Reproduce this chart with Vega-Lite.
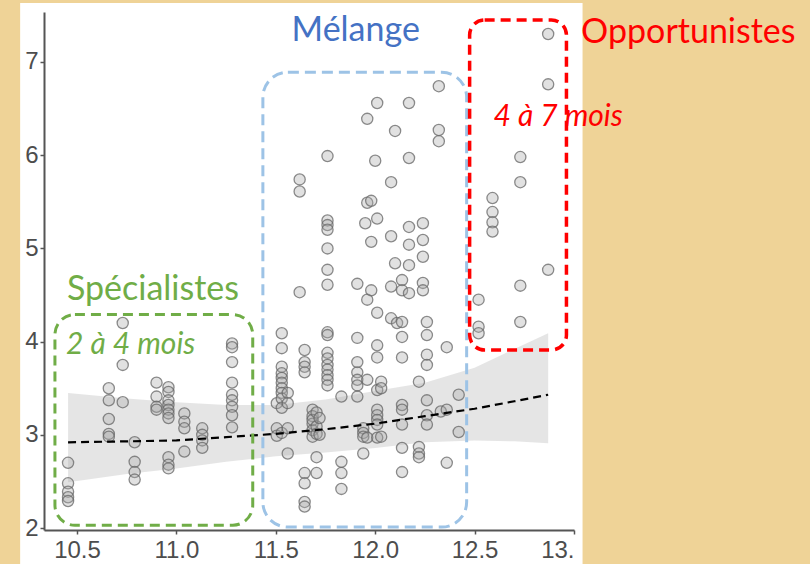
{
"$schema": "https://vega.github.io/schema/vega-lite/v6.json",
"width": 530, "height": 518,
"autosize": {"type": "none"},
"padding": {"left": 44, "top": 12, "right": 236, "bottom": 34},
"background": "#EFD397",
"config": {
  "view": {"stroke": null},
  "axis": {"grid": false, "domainColor": "#555555", "domainWidth": 2, "tickColor": "#555555", "tickWidth": 1.5, "tickSize": 4, "labelColor": "#4d4d4d", "labelFont": "Liberation Sans", "labelFontSize": 24},
  "axisX": {"labelPadding": 4},
  "axisY": {"labelPadding": 2}
},
"datasets": {
  "points": [
    {"x":10.455,"y":2.70},{"x":10.455,"y":2.48},{"x":10.455,"y":2.39},{"x":10.455,"y":2.33},{"x":10.455,"y":2.29},
    {"x":10.66,"y":3.50},{"x":10.66,"y":3.37},{"x":10.66,"y":3.17},{"x":10.66,"y":3.01},{"x":10.66,"y":2.98},
    {"x":10.73,"y":4.20},{"x":10.73,"y":3.75},{"x":10.73,"y":3.35},
    {"x":10.79,"y":2.92},{"x":10.79,"y":2.71},{"x":10.79,"y":2.60},{"x":10.79,"y":2.52},
    {"x":10.90,"y":3.56},{"x":10.90,"y":3.41},{"x":10.90,"y":3.30},{"x":10.90,"y":3.27},
    {"x":10.96,"y":3.51},{"x":10.96,"y":3.46},{"x":10.96,"y":3.37},{"x":10.96,"y":3.32},{"x":10.96,"y":3.27},{"x":10.96,"y":3.23},{"x":10.96,"y":3.18},{"x":10.96,"y":2.76},{"x":10.96,"y":2.68},{"x":10.96,"y":2.64},
    {"x":11.04,"y":3.23},{"x":11.04,"y":3.14},{"x":11.04,"y":3.07},{"x":11.04,"y":2.82},
    {"x":11.13,"y":3.07},{"x":11.13,"y":3.00},{"x":11.13,"y":2.94},{"x":11.13,"y":2.86},
    {"x":11.28,"y":3.98},{"x":11.28,"y":3.94},{"x":11.28,"y":3.78},{"x":11.28,"y":3.56},{"x":11.28,"y":3.43},{"x":11.28,"y":3.37},{"x":11.28,"y":3.30},{"x":11.28,"y":3.21},{"x":11.28,"y":3.08},
    {"x":11.505,"y":3.34},{"x":11.505,"y":3.07},{"x":11.505,"y":2.99},
    {"x":11.53,"y":4.09},{"x":11.53,"y":3.93},{"x":11.53,"y":3.73},{"x":11.53,"y":3.66},{"x":11.53,"y":3.61},{"x":11.53,"y":3.56},{"x":11.53,"y":3.50},{"x":11.53,"y":3.45},{"x":11.53,"y":3.39},{"x":11.53,"y":3.29},{"x":11.53,"y":3.02},
    {"x":11.56,"y":3.45},{"x":11.56,"y":3.34},{"x":11.56,"y":3.07},{"x":11.56,"y":2.80},
    {"x":11.62,"y":5.74},{"x":11.62,"y":5.61},{"x":11.62,"y":4.53},
    {"x":11.645,"y":3.91},{"x":11.645,"y":3.78},{"x":11.645,"y":3.73},{"x":11.645,"y":3.67},{"x":11.645,"y":2.59},{"x":11.645,"y":2.48},{"x":11.645,"y":2.28},{"x":11.645,"y":2.23},
    {"x":11.685,"y":3.27},{"x":11.685,"y":3.20},{"x":11.685,"y":3.12},{"x":11.685,"y":3.05},{"x":11.685,"y":2.98},{"x":11.685,"y":3.16},
    {"x":11.705,"y":3.24},{"x":11.705,"y":3.09},{"x":11.705,"y":3.01},{"x":11.705,"y":2.76},{"x":11.705,"y":2.59},
    {"x":11.72,"y":3.18},{"x":11.72,"y":3.00},
    {"x":11.76,"y":5.99},{"x":11.76,"y":5.30},{"x":11.76,"y":5.25},{"x":11.76,"y":5.20},{"x":11.76,"y":5.00},{"x":11.76,"y":4.77},{"x":11.76,"y":4.61},{"x":11.76,"y":4.10},{"x":11.76,"y":4.07},{"x":11.76,"y":3.88},{"x":11.76,"y":3.82},{"x":11.76,"y":3.75},{"x":11.76,"y":3.70},{"x":11.76,"y":3.64},{"x":11.76,"y":3.59},{"x":11.76,"y":3.53},
    {"x":11.83,"y":3.41},{"x":11.83,"y":2.71},{"x":11.83,"y":2.59},{"x":11.83,"y":2.42},
    {"x":11.91,"y":4.62},{"x":11.91,"y":4.04},{"x":11.91,"y":3.78},{"x":11.91,"y":3.67},{"x":11.91,"y":3.59},{"x":11.91,"y":3.53},{"x":11.91,"y":3.41},
    {"x":11.94,"y":3.07},{"x":11.94,"y":3.02},{"x":11.94,"y":2.98},{"x":11.94,"y":2.80},
    {"x":11.95,"y":5.27},
    {"x":11.96,"y":6.39},{"x":11.96,"y":5.49},{"x":11.96,"y":4.45},{"x":11.96,"y":3.59},{"x":11.96,"y":2.97},
    {"x":11.98,"y":5.51},{"x":11.98,"y":5.07},{"x":11.98,"y":4.55},
    {"x":12.00,"y":5.94},
    {"x":12.01,"y":6.56},{"x":12.01,"y":5.32},{"x":12.01,"y":4.31},{"x":12.01,"y":3.96},{"x":12.01,"y":3.83},{"x":12.01,"y":3.48},{"x":12.01,"y":3.27},{"x":12.01,"y":3.21},{"x":12.01,"y":3.16},{"x":12.01,"y":3.11},{"x":12.01,"y":2.97},
    {"x":12.03,"y":3.57},{"x":12.03,"y":3.50},{"x":12.03,"y":2.98},
    {"x":12.08,"y":5.71},{"x":12.08,"y":5.13},{"x":12.08,"y":4.59},{"x":12.08,"y":4.25},
    {"x":12.10,"y":6.26},{"x":12.10,"y":4.84},
    {"x":12.11,"y":4.20},
    {"x":12.135,"y":4.66},{"x":12.135,"y":4.55},{"x":12.135,"y":4.21},{"x":12.135,"y":4.05},{"x":12.135,"y":3.83},{"x":12.135,"y":3.32},{"x":12.135,"y":3.27},{"x":12.135,"y":3.11},{"x":12.135,"y":2.86},{"x":12.135,"y":2.60},
    {"x":12.17,"y":6.56},{"x":12.17,"y":5.97},{"x":12.17,"y":5.23},{"x":12.17,"y":5.04},{"x":12.17,"y":4.82},{"x":12.17,"y":4.52},
    {"x":12.22,"y":3.57},{"x":12.22,"y":2.87},{"x":12.22,"y":2.80},{"x":12.22,"y":2.76},
    {"x":12.24,"y":5.27},{"x":12.24,"y":5.09},{"x":12.24,"y":4.91},{"x":12.24,"y":4.63},{"x":12.24,"y":4.55},
    {"x":12.26,"y":4.21},{"x":12.26,"y":4.07},{"x":12.26,"y":3.86},{"x":12.26,"y":3.75},{"x":12.26,"y":3.37},{"x":12.26,"y":3.21},{"x":12.26,"y":3.11},
    {"x":12.32,"y":6.74},{"x":12.32,"y":6.27},{"x":12.32,"y":6.15},
    {"x":12.33,"y":3.25},
    {"x":12.36,"y":3.94},{"x":12.36,"y":3.27},{"x":12.36,"y":2.70},
    {"x":12.42,"y":3.43},{"x":12.42,"y":3.03},
    {"x":12.52,"y":4.45},{"x":12.52,"y":4.16},{"x":12.52,"y":4.09},
    {"x":12.59,"y":5.54},{"x":12.59,"y":5.39},{"x":12.59,"y":5.28},{"x":12.59,"y":5.18},
    {"x":12.73,"y":5.98},{"x":12.73,"y":5.71},{"x":12.73,"y":4.60},{"x":12.73,"y":4.21},
    {"x":12.87,"y":7.30},{"x":12.87,"y":6.76},{"x":12.87,"y":4.77}
  ],
  "fit": [
    {"x":10.455,"fit":2.92,"lo":2.49,"hi":3.45},
    {"x":10.75,"fit":2.93,"lo":2.58,"hi":3.39},
    {"x":11.0,"fit":2.94,"lo":2.64,"hi":3.35},
    {"x":11.25,"fit":2.975,"lo":2.71,"hi":3.32},
    {"x":11.5,"fit":3.01,"lo":2.77,"hi":3.32},
    {"x":11.75,"fit":3.06,"lo":2.81,"hi":3.38},
    {"x":12.0,"fit":3.12,"lo":2.86,"hi":3.47},
    {"x":12.25,"fit":3.20,"lo":2.92,"hi":3.56},
    {"x":12.5,"fit":3.28,"lo":2.94,"hi":3.72},
    {"x":12.7,"fit":3.36,"lo":2.93,"hi":3.92},
    {"x":12.87,"fit":3.43,"lo":2.91,"hi":4.09}
  ]
},
"layer": [
  {
    "data": {"values": [{}]},
    "mark": {"type": "rect", "fill": "white"},
    "encoding": {
      "x": {"datum": 10.214, "type": "quantitative", "scale": {"domain": [10.334, 13.0], "nice": false, "zero": false}, "title": null,
            "axis": {"zindex": 1, "title": null, "values": [10.5, 11, 11.5, 12, 12.5, 13], "labelExpr": "datum.value == 13 ? '13.' : format(datum.value, '.1f')"}},
      "x2": {"datum": 13.043},
      "y": {"datum": 7.633, "type": "quantitative", "scale": {"domain": [1.979, 7.536], "nice": false, "zero": false}, "title": null,
            "axis": {"zindex": 1, "title": null, "values": [2, 3, 4, 5, 6, 7], "format": "d"}},
      "y2": {"datum": 1.5}
    }
  },
  {
    "data": {"name": "fit"},
    "mark": {"type": "area", "color": "#999999", "opacity": 0.25},
    "encoding": {
      "x": {"field": "x", "type": "quantitative", "scale": {"domain": [10.334, 13.0], "nice": false, "zero": false}, "title": null,
            "axis": {"zindex": 1, "title": null, "values": [10.5, 11, 11.5, 12, 12.5, 13], "labelExpr": "datum.value == 13 ? '13.' : format(datum.value, '.1f')"}},
      "y": {"field": "lo", "type": "quantitative", "scale": {"domain": [1.979, 7.536], "nice": false, "zero": false}, "title": null,
            "axis": {"zindex": 1, "title": null, "values": [2, 3, 4, 5, 6, 7], "format": "d"}},
      "y2": {"field": "hi"}
    }
  },
  {
    "data": {"name": "points"},
    "mark": {"type": "circle", "size": 125, "fill": "#a8a8a8", "fillOpacity": 0.35, "stroke": "#666666", "strokeOpacity": 0.75, "strokeWidth": 1.3},
    "encoding": {
      "x": {"field": "x", "type": "quantitative", "scale": {"domain": [10.334, 13.0], "nice": false, "zero": false}, "title": null,
            "axis": {"zindex": 1, "title": null, "values": [10.5, 11, 11.5, 12, 12.5, 13], "labelExpr": "datum.value == 13 ? '13.' : format(datum.value, '.1f')"}},
      "y": {"field": "y", "type": "quantitative", "scale": {"domain": [1.979, 7.536], "nice": false, "zero": false}, "title": null,
            "axis": {"zindex": 1, "title": null, "values": [2, 3, 4, 5, 6, 7], "format": "d"}}
    }
  },
  {
    "data": {"name": "fit"},
    "mark": {"type": "line", "color": "black", "strokeWidth": 2.2, "strokeDash": [8, 5]},
    "encoding": {
      "x": {"field": "x", "type": "quantitative", "scale": {"domain": [10.334, 13.0], "nice": false, "zero": false}, "title": null,
            "axis": {"zindex": 1, "title": null, "values": [10.5, 11, 11.5, 12, 12.5, 13], "labelExpr": "datum.value == 13 ? '13.' : format(datum.value, '.1f')"}},
      "y": {"field": "fit", "type": "quantitative", "scale": {"domain": [1.979, 7.536], "nice": false, "zero": false}, "title": null,
            "axis": {"zindex": 1, "title": null, "values": [2, 3, 4, 5, 6, 7], "format": "d"}}
    }
  },
  {
    "data": {"values": [{}]},
    "mark": {"type": "rect", "filled": false, "stroke": "#70AD47", "strokeWidth": 3, "strokeDash": [10, 6], "cornerRadius": 20},
    "encoding": {
      "x": {"datum": 10.389, "type": "quantitative", "title": null,
            "axis": {"zindex": 1, "title": null, "values": [10.5, 11, 11.5, 12, 12.5, 13], "labelExpr": "datum.value == 13 ? '13.' : format(datum.value, '.1f')"}},
      "x2": {"datum": 11.384},
      "y": {"datum": 4.29, "type": "quantitative", "title": null,
            "axis": {"zindex": 1, "title": null, "values": [2, 3, 4, 5, 6, 7], "format": "d"}},
      "y2": {"datum": 2.03}
    }
  },
  {
    "data": {"values": [{}]},
    "mark": {"type": "rect", "filled": false, "stroke": "#9DC3E6", "strokeWidth": 3, "strokeDash": [11, 6], "cornerRadius": 25},
    "encoding": {
      "x": {"datum": 11.435, "type": "quantitative", "title": null,
            "axis": {"zindex": 1, "title": null, "values": [10.5, 11, 11.5, 12, 12.5, 13], "labelExpr": "datum.value == 13 ? '13.' : format(datum.value, '.1f')"}},
      "x2": {"datum": 12.46},
      "y": {"datum": 6.89, "type": "quantitative", "title": null,
            "axis": {"zindex": 1, "title": null, "values": [2, 3, 4, 5, 6, 7], "format": "d"}},
      "y2": {"datum": 2.01}
    }
  },
  {
    "data": {"values": [{}]},
    "mark": {"type": "rect", "filled": false, "stroke": "#FF0000", "strokeWidth": 3.5, "strokeDash": [10, 6], "cornerRadius": 15},
    "encoding": {
      "x": {"datum": 12.475, "type": "quantitative", "title": null,
            "axis": {"zindex": 1, "title": null, "values": [10.5, 11, 11.5, 12, 12.5, 13], "labelExpr": "datum.value == 13 ? '13.' : format(datum.value, '.1f')"}},
      "x2": {"datum": 12.962},
      "y": {"datum": 7.45, "type": "quantitative", "title": null,
            "axis": {"zindex": 1, "title": null, "values": [2, 3, 4, 5, 6, 7], "format": "d"}},
      "y2": {"datum": 3.91}
    }
  },
  {
    "data": {"values": [{}]},
    "mark": {"type": "text", "text": "Mélange", "font": "Lato", "fontSize": 34, "color": "#4472C4", "align": "center", "baseline": "middle"},
    "encoding": {
      "x": {"datum": 11.902, "type": "quantitative", "title": null,
            "axis": {"zindex": 1, "title": null, "values": [10.5, 11, 11.5, 12, 12.5, 13], "labelExpr": "datum.value == 13 ? '13.' : format(datum.value, '.1f')"}},
      "y": {"datum": 7.33, "type": "quantitative", "title": null,
            "axis": {"zindex": 1, "title": null, "values": [2, 3, 4, 5, 6, 7], "format": "d"}}
    }
  },
  {
    "data": {"values": [{}]},
    "mark": {"type": "text", "text": "Opportunistes", "font": "Lato", "fontSize": 34, "color": "#FF0000", "align": "center", "baseline": "middle"},
    "encoding": {
      "x": {"datum": 13.575, "type": "quantitative", "title": null,
            "axis": {"zindex": 1, "title": null, "values": [10.5, 11, 11.5, 12, 12.5, 13], "labelExpr": "datum.value == 13 ? '13.' : format(datum.value, '.1f')"}},
      "y": {"datum": 7.31, "type": "quantitative", "title": null,
            "axis": {"zindex": 1, "title": null, "values": [2, 3, 4, 5, 6, 7], "format": "d"}}
    }
  },
  {
    "data": {"values": [{}]},
    "mark": {"type": "text", "text": "Spécialistes", "font": "Lato", "fontSize": 34, "color": "#70AD47", "align": "center", "baseline": "middle"},
    "encoding": {
      "x": {"datum": 10.882, "type": "quantitative", "title": null,
            "axis": {"zindex": 1, "title": null, "values": [10.5, 11, 11.5, 12, 12.5, 13], "labelExpr": "datum.value == 13 ? '13.' : format(datum.value, '.1f')"}},
      "y": {"datum": 4.55, "type": "quantitative", "title": null,
            "axis": {"zindex": 1, "title": null, "values": [2, 3, 4, 5, 6, 7], "format": "d"}}
    }
  },
  {
    "data": {"values": [{}]},
    "mark": {"type": "text", "text": "2 à 4 mois", "font": "Lato", "fontSize": 30, "fontStyle": "italic", "color": "#70AD47", "align": "center", "baseline": "middle"},
    "encoding": {
      "x": {"datum": 10.77, "type": "quantitative", "title": null,
            "axis": {"zindex": 1, "title": null, "values": [10.5, 11, 11.5, 12, 12.5, 13], "labelExpr": "datum.value == 13 ? '13.' : format(datum.value, '.1f')"}},
      "y": {"datum": 3.96, "type": "quantitative", "title": null,
            "axis": {"zindex": 1, "title": null, "values": [2, 3, 4, 5, 6, 7], "format": "d"}}
    }
  },
  {
    "data": {"values": [{}]},
    "mark": {"type": "text", "text": "4 à 7 mois", "font": "Lato", "fontSize": 30, "fontStyle": "italic", "color": "#FF0000", "align": "center", "baseline": "middle"},
    "encoding": {
      "x": {"datum": 12.92, "type": "quantitative", "title": null,
            "axis": {"zindex": 1, "title": null, "values": [10.5, 11, 11.5, 12, 12.5, 13], "labelExpr": "datum.value == 13 ? '13.' : format(datum.value, '.1f')"}},
      "y": {"datum": 6.41, "type": "quantitative", "title": null,
            "axis": {"zindex": 1, "title": null, "values": [2, 3, 4, 5, 6, 7], "format": "d"}}
    }
  }
]
}
